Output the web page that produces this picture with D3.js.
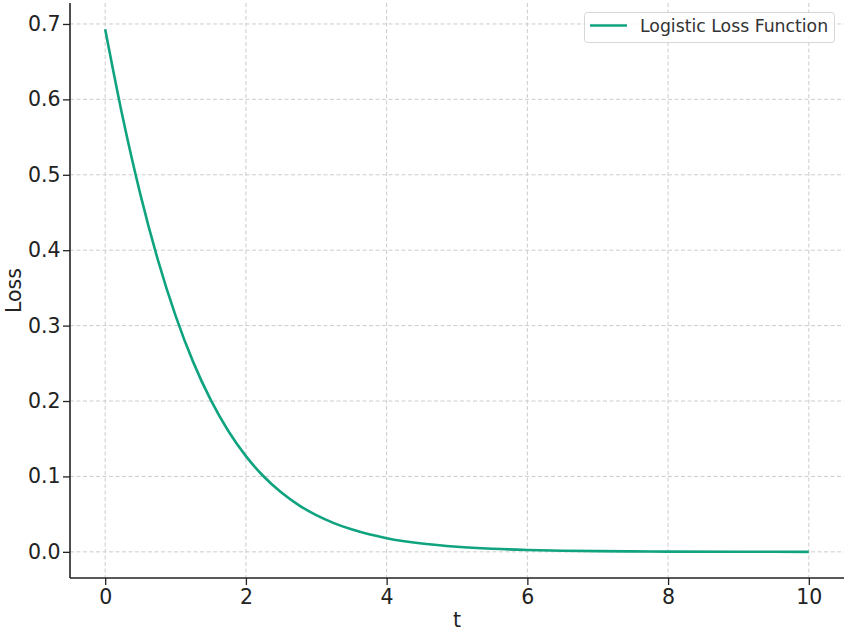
<!DOCTYPE html>
<html><head><meta charset="utf-8">
<script src="https://cdn.jsdelivr.net/npm/d3@7"></script>
<style>body{margin:0;background:#fff}svg{display:block}</style>
</head><body>
<svg id="c" width="848" height="633"></svg>
<script>
const tValues = [0,0.25,0.5,0.75,1,1.25,1.5,1.75,2,2.25,2.5,2.75,3,3.25,3.5,3.75,4,4.5,5,5.5,6,6.5,7,7.5,8,9,10];
const lossValues = [0.6931,0.5759,0.4741,0.3869,0.3133,0.2519,0.2014,0.1602,0.1269,0.1002,0.0789,0.0620,0.0486,0.0381,0.0298,0.0232,0.0181,0.0110,0.0067,0.0041,0.0025,0.0015,0.0009,0.0006,0.0003,0.0001,0.0000];
const xTicks = [0,2,4,6,8,10];
const yTicks = [0,0.1,0.2,0.3,0.4,0.5,0.6,0.7];
const seriesName = "Logistic Loss Function";
const xLabel = "t", yLabel = "Loss";

const svg = d3.select("#c");
const L = 70, R = 844, T = 3, B = 578;
const x = d3.scaleLinear().domain([-0.5, 10.5]).range([L, R]);
const y = d3.scaleLinear().domain([-0.0347, 0.7278]).range([B, T]);
const font = "DejaVu Sans, sans-serif";
const col = "#10a37f";

// grid
const g = svg.append("g");
g.selectAll(".gx").data(xTicks).join("line")
  .attr("x1", d => x(d)).attr("x2", d => x(d)).attr("y1", T).attr("y2", B)
  .attr("stroke", "#cccccc").attr("stroke-width", 1).attr("stroke-dasharray", "4,2.5");
g.selectAll(".gy").data(yTicks).join("line")
  .attr("x1", L).attr("x2", R).attr("y1", d => y(d)).attr("y2", d => y(d))
  .attr("stroke", "#cccccc").attr("stroke-width", 1).attr("stroke-dasharray", "4,2.5");

// line
const data = tValues.map((t, i) => ({t, v: lossValues[i]}));
svg.append("path").datum(data)
  .attr("fill", "none").attr("stroke", col).attr("stroke-width", 2.6)
  .attr("d", d3.line().x(d => x(d.t)).y(d => y(d.v)).curve(d3.curveMonotoneX));

// axes
const xa = svg.append("g").attr("transform", `translate(0,${B})`)
  .call(d3.axisBottom(x).tickValues(xTicks).tickSize(7).tickPadding(4).tickFormat(d3.format("d")));
const ya = svg.append("g").attr("transform", `translate(${L},0)`)
  .call(d3.axisLeft(y).tickValues(yTicks).tickSize(7).tickPadding(2.5).tickFormat(d3.format(".1f")));
[xa, ya].forEach(a => {
  a.select(".domain").attr("stroke", "#222").attr("stroke-width", 1.6);
  a.selectAll(".tick line").attr("stroke", "#222").attr("stroke-width", 1.3);
  a.selectAll(".tick text").attr("fill", "#222").style("font-family", font).style("font-size", "20.5px");
});
xa.select(".domain").attr("d", `M${L},0H${R}`);
ya.select(".domain").attr("d", `M0,${B}V${T}`);

svg.append("text").attr("x", (L + R) / 2).attr("y", 627).attr("text-anchor", "middle")
  .style("font-family", font).style("font-size", "20.5px").attr("fill", "#222").text(xLabel);
svg.append("text").attr("transform", `translate(21,${(T + B) / 2}) rotate(-90)`).attr("text-anchor", "middle")
  .style("font-family", font).style("font-size", "20.5px").attr("fill", "#222").text(yLabel);

// legend
const lg = svg.append("g");
lg.append("rect").attr("x", 584.5).attr("y", 12.5).attr("width", 250).attr("height", 30).attr("rx", 3)
  .attr("fill", "#fff").attr("fill-opacity", 0.8).attr("stroke", "#d6d6d6").attr("stroke-width", 1);
lg.append("line").attr("x1", 590).attr("x2", 627).attr("y1", 25.5).attr("y2", 25.5)
  .attr("stroke", col).attr("stroke-width", 2.6);
lg.append("text").attr("x", 640).attr("y", 31.5).style("font-family", font).style("font-size", "17.3px")
  .attr("fill", "#333").text(seriesName);
</script>
</body></html>
